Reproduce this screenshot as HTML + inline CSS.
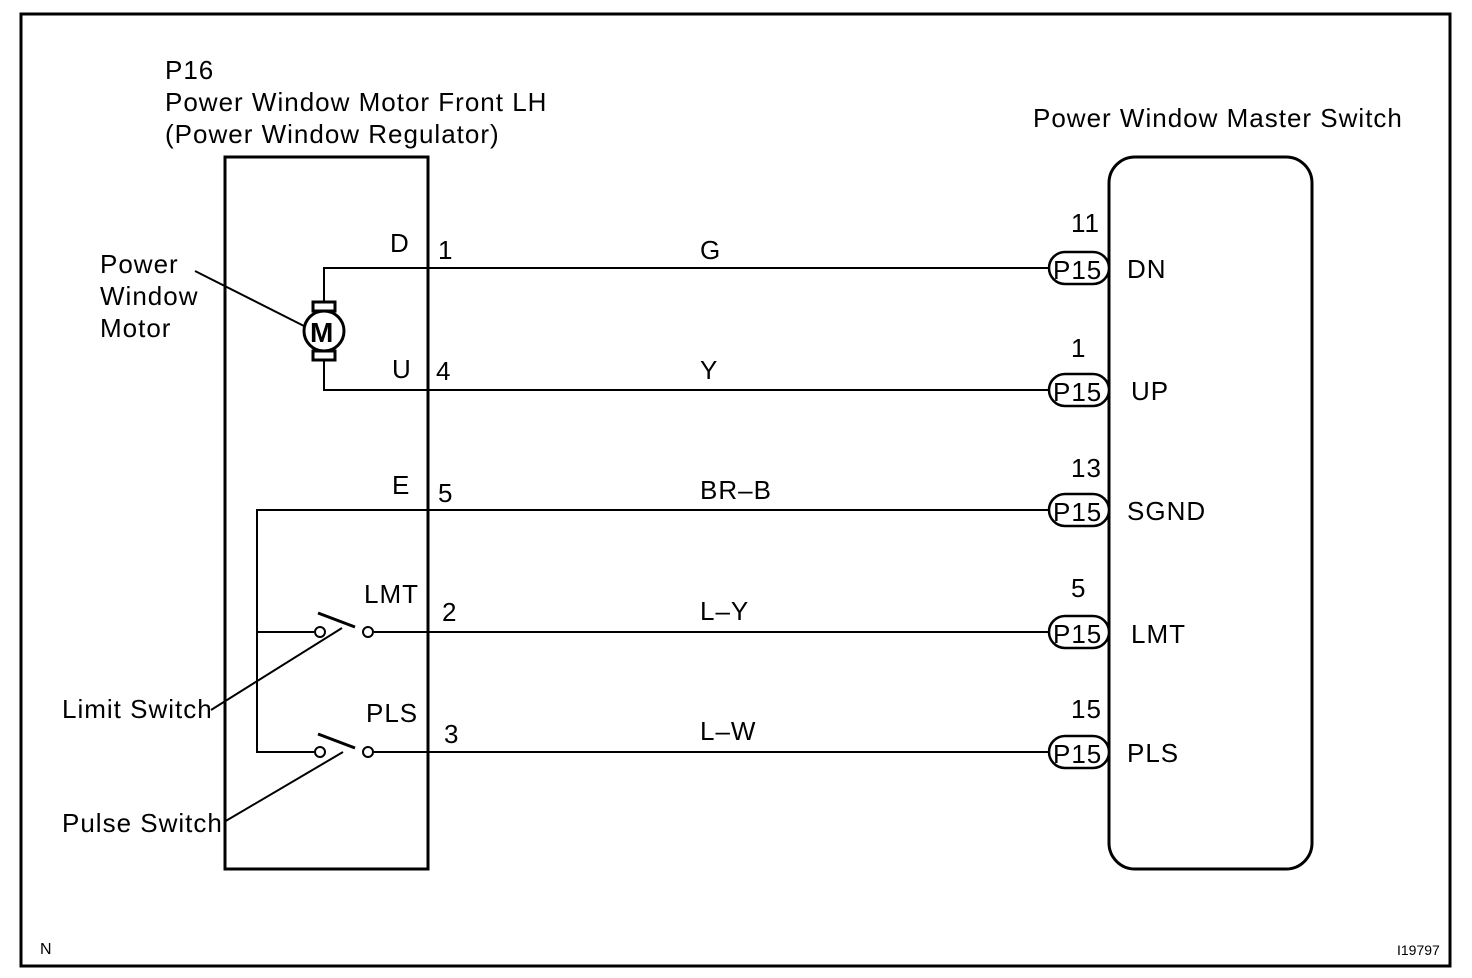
<!DOCTYPE html>
<html><head><style>body{margin:0;background:#fff}svg{display:block}text{font-family:"Liberation Sans",Arial,sans-serif;font-size:26px;letter-spacing:1px;fill:#000}</style></head>
<body>
<svg width="1472" height="978" viewBox="0 0 1472 978" xmlns="http://www.w3.org/2000/svg">
<rect x="21" y="14" width="1429" height="952" fill="none" stroke="#000" stroke-width="3"/>
<rect x="225" y="157" width="203" height="712" fill="none" stroke="#000" stroke-width="3"/>
<rect x="1109" y="157" width="203" height="712" rx="26" fill="none" stroke="#000" stroke-width="3"/>
<g stroke="#000" stroke-width="2" fill="none">
<polyline points="324,302 324,268 1049,268"/>
<polyline points="324,360 324,390 1049,390"/>
<polyline points="1049,510 257,510 257,752 314,752"/>
<line x1="257" y1="632" x2="314" y2="632"/>
<line x1="374" y1="632" x2="1049" y2="632"/>
<line x1="374" y1="752" x2="1049" y2="752"/>
<circle cx="320" cy="632" r="5" fill="#fff"/>
<circle cx="368" cy="632" r="5" fill="#fff"/>
<circle cx="320" cy="752" r="5" fill="#fff"/>
<circle cx="368" cy="752" r="5" fill="#fff"/>
<line x1="318" y1="613" x2="355" y2="627" stroke-width="3"/>
<line x1="318" y1="734" x2="355" y2="748" stroke-width="3"/>
<line x1="342" y1="628" x2="211" y2="710"/>
<line x1="343" y1="752" x2="224" y2="822"/>
<line x1="195" y1="271" x2="304" y2="326"/>
<rect x="313" y="302" width="22" height="9" stroke-width="3" fill="#fff"/>
<rect x="313" y="351" width="22" height="9" stroke-width="3" fill="#fff"/>
<circle cx="324" cy="331" r="20" stroke-width="3" fill="#fff"/>
</g>
<text x="310" y="342" style="font-size:28px;font-weight:bold;letter-spacing:0">M</text>
<g stroke="#000" stroke-width="2.5" fill="#fff">
<rect x="1049" y="252" width="60" height="32" rx="16"/>
<rect x="1049" y="374" width="60" height="32" rx="16"/>
<rect x="1049" y="494" width="60" height="32" rx="16"/>
<rect x="1049" y="616" width="60" height="32" rx="16"/>
<rect x="1049" y="736" width="60" height="32" rx="16"/>
</g>
<g style="letter-spacing:0;font-size:25px">
<text x="1053" y="279">P15</text><text x="1053" y="401">P15</text><text x="1053" y="521">P15</text><text x="1053" y="643">P15</text><text x="1053" y="763">P15</text>
</g>
<text x="1071" y="232">11</text><text x="1071" y="357">1</text><text x="1071" y="477">13</text><text x="1071" y="597">5</text><text x="1071" y="718">15</text>
<text x="1127" y="278">DN</text><text x="1131" y="400">UP</text><text x="1127" y="520">SGND</text><text x="1131" y="643">LMT</text><text x="1127" y="762">PLS</text>
<text x="165" y="79">P16</text>
<text x="165" y="111">Power Window Motor Front LH</text>
<text x="165" y="143">(Power Window Regulator)</text>
<text x="1033" y="127">Power Window Master Switch</text>
<text x="100" y="273">Power</text><text x="100" y="305">Window</text><text x="100" y="337">Motor</text>
<text x="62" y="718">Limit Switch</text>
<text x="62" y="832">Pulse Switch</text>
<text x="390" y="252">D</text><text x="438" y="259">1</text>
<text x="392" y="378">U</text><text x="436" y="380">4</text>
<text x="392" y="494">E</text><text x="438" y="502">5</text>
<text x="364" y="603">LMT</text><text x="442" y="621">2</text>
<text x="366" y="722">PLS</text><text x="444" y="743">3</text>
<text x="700" y="259">G</text><text x="700" y="379">Y</text><text x="700" y="499">BR–B</text><text x="700" y="620">L–Y</text><text x="700" y="740">L–W</text>
<text x="40" y="954" style="font-size:16px;letter-spacing:0">N</text>
<text x="1397" y="955" style="font-size:14px;letter-spacing:0">I19797</text>
</svg>
</body></html>
